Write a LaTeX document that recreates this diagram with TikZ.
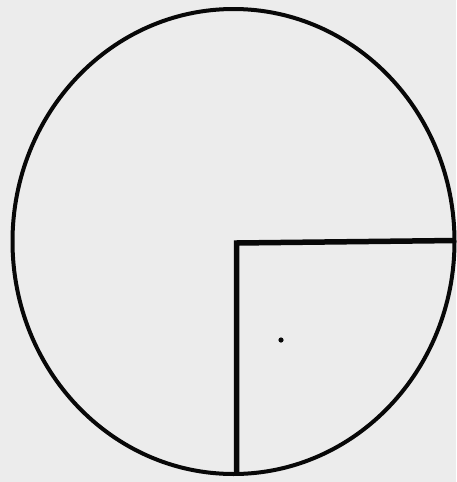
\documentclass[tikz,border=0pt]{standalone}
\definecolor{bgpaper}{RGB}{236,236,236}
\definecolor{ink}{RGB}{8,8,8}
\begin{document}
\begin{tikzpicture}[x=1pt,y=-1pt,
  outline/.style={draw=ink,line width=4pt},
  radius line/.style={draw=ink,line width=5.5pt,line join=miter}]
\fill[bgpaper] (0,0) rectangle (456,482);
\useasboundingbox (0,0) rectangle (456,482);
\coordinate (c) at (233.5,241.5);
\draw[outline] (c) ellipse [x radius=221,y radius=232.5];
\draw[radius line] (236.5,474) -- (236.5,243) -- (456,240.5);
\fill[ink] (281,340) circle (2.6);
\end{tikzpicture}
\end{document}
